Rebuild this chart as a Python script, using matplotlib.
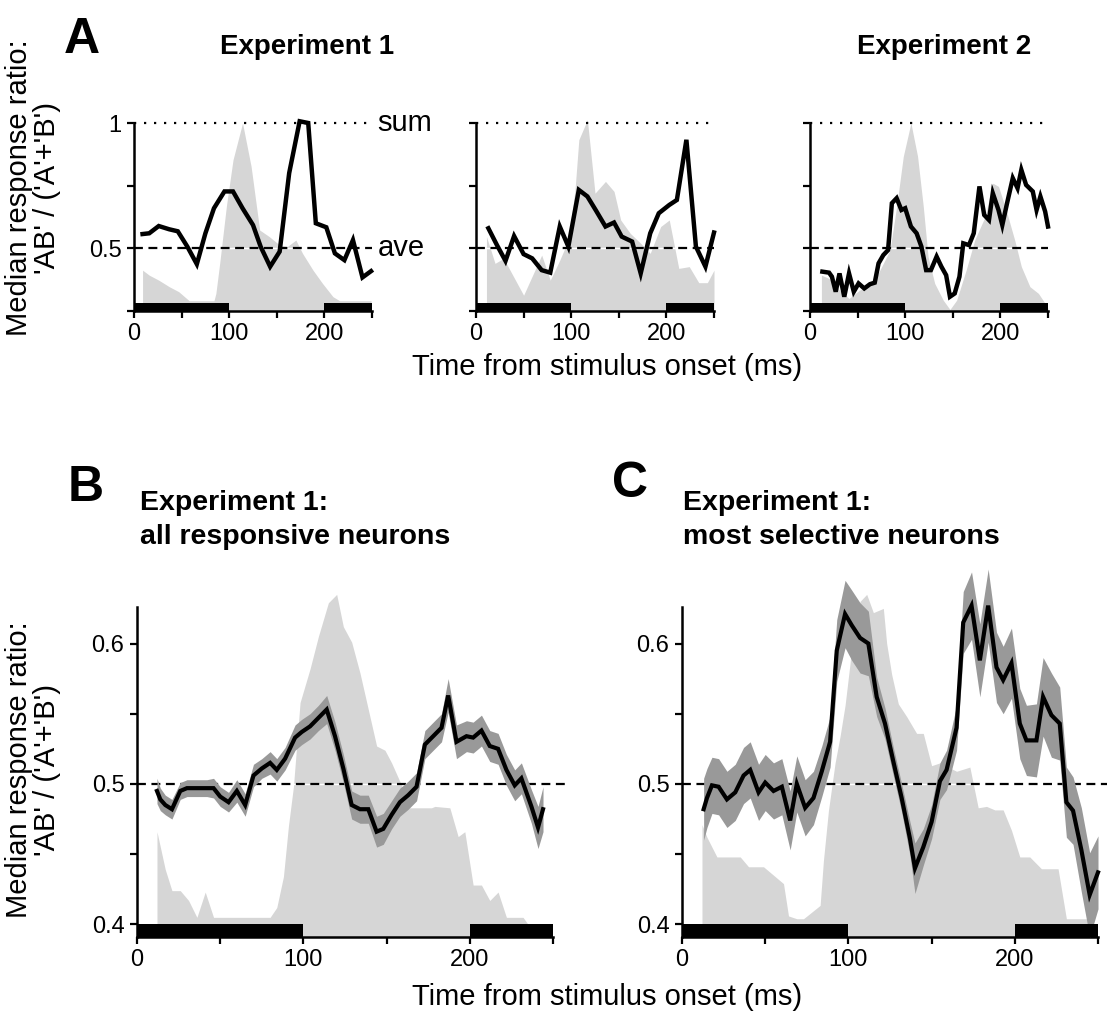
import numpy as np
import matplotlib
matplotlib.use('Agg')
import matplotlib.pyplot as plt

plt.rcParams['font.family'] = ['Liberation Sans', 'DejaVu Sans']

# stimulus presentation windows (ms)
stim_windows = [(0, 100), (200, 250)]

# Experiment 1, example neuron 1
a1_t = [9, 16, 26, 37, 46, 56, 66, 75, 84, 95, 104, 114, 125, 133, 143, 153, 163, 174, 183, 191,
        202, 211, 221, 230, 240, 249]
a1_ratio = [0.557, 0.560, 0.589, 0.576, 0.568, 0.507, 0.437, 0.560, 0.660, 0.727, 0.727, 0.660, 0.593,
            0.507, 0.427, 0.487, 0.800, 1.007, 1.000, 0.600, 0.584, 0.480, 0.453, 0.533, 0.384, 0.409]
a1_resp_t = [9, 16, 26, 37, 47, 58, 84, 86, 90, 97, 104, 114, 123, 132, 142, 153, 161, 170, 177, 188,
             198, 209, 216, 249]
a1_resp = [0.413, 0.393, 0.373, 0.347, 0.327, 0.291, 0.291, 0.320, 0.440, 0.667, 0.853, 1.000, 0.827,
           0.573, 0.547, 0.513, 0.507, 0.533, 0.480, 0.413, 0.360, 0.307, 0.291, 0.291]

# Experiment 1, example neuron 2
a2_t = [13, 22, 31, 40, 50, 59, 69, 78, 88, 97, 108, 117, 126, 136, 145, 153, 164, 173, 183, 192,
        203, 211, 221, 231, 241, 250]
a2_ratio = [0.580, 0.513, 0.450, 0.549, 0.477, 0.460, 0.413, 0.403, 0.587, 0.507, 0.733, 0.707, 0.651,
            0.587, 0.603, 0.547, 0.527, 0.400, 0.560, 0.640, 0.673, 0.693, 0.933, 0.507, 0.427, 0.563]
a2_resp_t = [11, 20, 29, 50, 69, 78, 88, 97, 104, 108, 117, 125, 136, 145, 152, 162, 173, 183, 194,
             203, 213, 224, 234, 243, 250]
a2_resp = [0.547, 0.440, 0.460, 0.313, 0.473, 0.373, 0.453, 0.533, 0.733, 0.933, 1.013, 0.720, 0.767,
           0.727, 0.613, 0.560, 0.520, 0.480, 0.587, 0.613, 0.420, 0.427, 0.363, 0.363, 0.413]

# Experiment 2, example neuron
a3_t = [13, 20, 23, 27, 31, 36, 41, 46, 51, 57, 63, 68, 72, 77, 82, 86, 91, 96, 100, 106, 112, 117,
        122, 127, 133, 138, 143, 147, 152, 157, 161, 167, 172, 178, 183, 188, 192, 198, 202, 207, 213,
        218, 222, 227, 234, 238, 242, 247, 250]
a3_ratio = [0.407, 0.403, 0.387, 0.327, 0.400, 0.307, 0.400, 0.327, 0.360, 0.340, 0.357, 0.363, 0.440,
            0.473, 0.493, 0.680, 0.700, 0.653, 0.660, 0.587, 0.560, 0.507, 0.413, 0.413, 0.467, 0.427,
            0.393, 0.307, 0.320, 0.387, 0.520, 0.513, 0.560, 0.747, 0.633, 0.613, 0.720, 0.653, 0.593,
            0.680, 0.780, 0.740, 0.813, 0.753, 0.727, 0.653, 0.707, 0.647, 0.587]
a3_resp_t = [12, 20, 31, 41, 52, 59, 68, 77, 84, 91, 98, 106, 113, 119, 124, 131, 140, 147, 154, 164,
             173, 184, 192, 198, 206, 215, 222, 231, 240, 247, 250]
a3_resp = [0.393, 0.380, 0.333, 0.300, 0.333, 0.347, 0.373, 0.440, 0.493, 0.667, 0.867, 1.000, 0.867,
           0.667, 0.467, 0.360, 0.293, 0.256, 0.293, 0.413, 0.533, 0.627, 0.760, 0.747, 0.653, 0.533,
           0.427, 0.347, 0.320, 0.280, 0.260]

# population medians, all responsive neurons
b_t = [12, 14, 17, 21, 26, 30, 36, 42, 46, 50, 55, 60, 65, 70, 75, 80, 84, 89, 95, 99, 104, 109, 114,
       119, 124, 129, 134, 139, 144, 148, 153, 158, 163, 168, 173, 178, 183, 187, 192, 198, 202, 207,
       212, 217, 222, 227, 231, 237, 241, 244]
b_ratio = [0.495, 0.489, 0.485, 0.482, 0.495, 0.497, 0.497, 0.497, 0.497, 0.491, 0.487, 0.495, 0.485,
           0.506, 0.511, 0.515, 0.510, 0.518, 0.533, 0.537, 0.541, 0.547, 0.553, 0.534, 0.511, 0.485,
           0.482, 0.482, 0.466, 0.468, 0.478, 0.487, 0.492, 0.498, 0.528, 0.534, 0.540, 0.563, 0.530,
           0.534, 0.533, 0.538, 0.527, 0.525, 0.510, 0.499, 0.504, 0.484, 0.469, 0.482]
b_sem = [0.009, 0.008, 0.007, 0.007, 0.006, 0.006, 0.006, 0.006, 0.007, 0.007, 0.007, 0.008, 0.008,
         0.008, 0.007, 0.008, 0.008, 0.008, 0.009, 0.009, 0.009, 0.009, 0.010, 0.010, 0.010, 0.010,
         0.010, 0.010, 0.011, 0.011, 0.010, 0.010, 0.010, 0.010, 0.010, 0.010, 0.010, 0.012, 0.012,
         0.011, 0.011, 0.011, 0.011, 0.011, 0.011, 0.011, 0.011, 0.012, 0.015, 0.016]
b_resp_t = [12, 17, 21, 26, 31, 36, 41, 46, 80, 84, 88, 91, 94, 98, 104, 109, 115, 120, 124, 129, 134,
            139, 144, 149, 153, 159, 163, 177, 179, 188, 193, 197, 202, 207, 212, 217, 222, 232, 235, 240]
b_resp = [0.466, 0.439, 0.424, 0.424, 0.417, 0.405, 0.423, 0.405, 0.405, 0.412, 0.434, 0.470, 0.498,
          0.558, 0.582, 0.605, 0.629, 0.635, 0.612, 0.601, 0.579, 0.553, 0.527, 0.524, 0.515, 0.499,
          0.483, 0.483, 0.484, 0.483, 0.4625, 0.466, 0.428, 0.428, 0.417, 0.423, 0.405, 0.405, 0.400,
          0.395]

# population medians, most selective neurons
c_t = [13, 15, 18, 22, 27, 32, 37, 41, 46, 50, 55, 60, 65, 69, 74, 79, 84, 89, 93, 98, 102, 107, 112,
       117, 122, 127, 132, 137, 140, 145, 150, 155, 159, 165, 169, 174, 179, 184, 189, 193, 198, 203,
       207, 213, 217, 222, 227, 231, 235, 240, 245, 250]
c_ratio = [0.482, 0.490, 0.499, 0.498, 0.489, 0.494, 0.506, 0.510, 0.494, 0.501, 0.495, 0.498, 0.474,
           0.500, 0.483, 0.490, 0.509, 0.530, 0.595, 0.621, 0.613, 0.604, 0.600, 0.562, 0.543, 0.516,
           0.490, 0.461, 0.440, 0.455, 0.473, 0.502, 0.510, 0.540, 0.615, 0.627, 0.588, 0.627, 0.583,
           0.574, 0.586, 0.543, 0.531, 0.531, 0.562, 0.549, 0.543, 0.487, 0.481, 0.453, 0.421, 0.437]
c_sem = [0.022, 0.021, 0.020, 0.020, 0.020, 0.020, 0.020, 0.020, 0.020, 0.020, 0.020, 0.020, 0.021,
         0.020, 0.020, 0.019, 0.018, 0.018, 0.022, 0.024, 0.025, 0.025, 0.023, 0.014, 0.011, 0.010,
         0.010, 0.012, 0.018, 0.013, 0.012, 0.013, 0.014, 0.016, 0.022, 0.024, 0.026, 0.026, 0.025,
         0.024, 0.025, 0.025, 0.025, 0.026, 0.028, 0.030, 0.026, 0.025, 0.024, 0.030, 0.030, 0.026]
c_resp_t = [12, 15, 21, 35, 40, 49, 57, 61, 64, 69, 73, 83, 85, 88, 92, 95, 98, 101, 103, 107, 111,
            115, 121, 123, 126, 130, 135, 141, 145, 150, 155, 165, 173, 178, 183, 188, 193, 198, 203,
            209, 216, 226, 231, 246]
c_resp = [0.471, 0.462, 0.448, 0.448, 0.441, 0.441, 0.433, 0.429, 0.406, 0.404, 0.404, 0.4135, 0.4455,
          0.481, 0.515, 0.534, 0.556, 0.586, 0.610, 0.630, 0.635, 0.622, 0.625, 0.600, 0.578, 0.557,
          0.548, 0.536, 0.536, 0.513, 0.515, 0.509, 0.512, 0.483, 0.484, 0.4815, 0.4815, 0.467, 0.448,
          0.448, 0.4396, 0.4396, 0.404, 0.404]

LIGHT = '#d6d6d6'
DARK = '#999999'
TICK_FS = 17
LABEL_FS = 21
YLABEL = "Median response ratio:\n'AB' / ('A'+'B')"
XLABEL = 'Time from stimulus onset (ms)'


def style_axes(ax, ylim, yticks, ylabels):
    ax.set_xlim(0, 250)
    ax.set_ylim(*ylim)
    for side in ('top', 'right'):
        ax.spines[side].set_visible(False)
    for side in ('left', 'bottom'):
        ax.spines[side].set_linewidth(1.8)
    ax.set_yticks(yticks)
    ax.set_yticklabels(ylabels)
    ax.set_xticks([0, 50, 100, 150, 200, 250])
    ax.set_xticklabels(['0', '', '100', '', '200', ''])
    ax.tick_params(direction='out', length=5, width=1.6, labelsize=TICK_FS, pad=4)
    ax.patch.set_alpha(0)


def ref_line(ax, y, xmax, style):
    # thin white core under the black dashes
    ax.axhline(y, xmin=0, xmax=xmax, color='white', lw=1.0, zorder=2, clip_on=False)
    ax.axhline(y, xmin=0, xmax=xmax, color='black', lw=1.6, zorder=2.1, clip_on=False,
               linestyle=style)


def stim_bars(ax, height):
    lo = ax.get_ylim()[0]
    for start, stop in stim_windows:
        ax.fill_between([start, stop], lo, lo + height, color='black', lw=0, zorder=5,
                        clip_on=False)


def example_panel(ax, t, ratio, resp_t, resp):
    style_axes(ax, (0.25, 1.0), [0.25, 0.5, 0.75, 1.0], ['', '0.5', '', '1'])
    ax.fill_between(resp_t, 0.25, resp, color=LIGHT, lw=0, zorder=1, clip_on=False)
    ref_line(ax, 1.0, 1.0, (0, (1, 3.5)))
    ref_line(ax, 0.5, 1.0, (0, (4, 2.5)))
    stim_bars(ax, 0.032)
    ax.plot(t, ratio, color='black', lw=3.2, zorder=6, clip_on=False, solid_joinstyle='miter')


def population_panel(ax, t, ratio, sem, resp_t, resp):
    ylim = (0.391, 0.626)
    style_axes(ax, ylim, [0.4, 0.45, 0.5, 0.55, 0.6], ['0.4', '', '0.5', '', '0.6'])
    ax.fill_between(resp_t, ylim[0], resp, color=LIGHT, lw=0, zorder=1, clip_on=False)
    ref_line(ax, 0.5, 1.03, (0, (4, 2.5)))
    r = np.array(ratio)
    s = np.array(sem)
    ax.fill_between(t, r - s, r + s, color=DARK, lw=0, zorder=3, clip_on=False)
    stim_bars(ax, 0.009)
    ax.plot(t, r, color='black', lw=3.0, zorder=6, clip_on=False, solid_joinstyle='miter')


W, H = 1107, 1017
fig = plt.figure(figsize=(W / 100, H / 100), dpi=100)


def px_axes(x0, y0, x1, y1):
    return fig.add_axes([x0 / W, 1 - y1 / H, (x1 - x0) / W, (y1 - y0) / H])


ax1 = px_axes(134, 123, 372, 311)
ax2 = px_axes(476, 123, 714, 311)
ax3 = px_axes(810, 123, 1048, 311)
example_panel(ax1, a1_t, a1_ratio, a1_resp_t, a1_resp)
example_panel(ax2, a2_t, a2_ratio, a2_resp_t, a2_resp)
example_panel(ax3, a3_t, a3_ratio, a3_resp_t, a3_resp)
ax2.set_yticklabels([])
ax3.set_yticklabels([])
ax1.text(256, 1.0, 'sum', fontsize=LABEL_FS, va='center', ha='left')
ax1.text(256, 0.5, 'ave', fontsize=LABEL_FS, va='center', ha='left')

axb = px_axes(137, 607, 553, 937)
axc = px_axes(682, 607, 1098, 937)
population_panel(axb, b_t, b_ratio, b_sem, b_resp_t, b_resp)
population_panel(axc, c_t, c_ratio, c_sem, c_resp_t, c_resp)

# panel letters and headings
fig.text(82 / W, 1 - 40 / H, 'A', fontsize=36, fontweight='bold', ha='center', va='center')
fig.text(86 / W, 1 - 488 / H, 'B', fontsize=36, fontweight='bold', ha='center', va='center')
fig.text(630 / W, 1 - 484 / H, 'C', fontsize=36, fontweight='bold', ha='center', va='center')
fig.text(307 / W, 1 - 47 / H, 'Experiment 1', fontsize=20, fontweight='bold', ha='center', va='center')
fig.text(944 / W, 1 - 47 / H, 'Experiment 2', fontsize=20, fontweight='bold', ha='center', va='center')
fig.text(140 / W, 1 - 520 / H, 'Experiment 1:\nall responsive neurons', fontsize=20.5,
         fontweight='bold', ha='left', va='center', linespacing=1.35)
fig.text(683 / W, 1 - 520 / H, 'Experiment 1:\nmost selective neurons', fontsize=20.5,
         fontweight='bold', ha='left', va='center', linespacing=1.35)

# shared axis labels
fig.text(33 / W, 1 - 188 / H, YLABEL, fontsize=LABEL_FS, rotation=90, ha='center', va='center',
         multialignment='center', linespacing=1.0)
fig.text(33 / W, 1 - 770 / H, YLABEL, fontsize=LABEL_FS, rotation=90, ha='center', va='center',
         multialignment='center', linespacing=1.0)
fig.text(607 / W, 1 - 367 / H, XLABEL, fontsize=LABEL_FS, ha='center', va='center')
fig.text(607 / W, 1 - 997 / H, XLABEL, fontsize=LABEL_FS, ha='center', va='center')

fig.savefig('out.png', dpi=100)
